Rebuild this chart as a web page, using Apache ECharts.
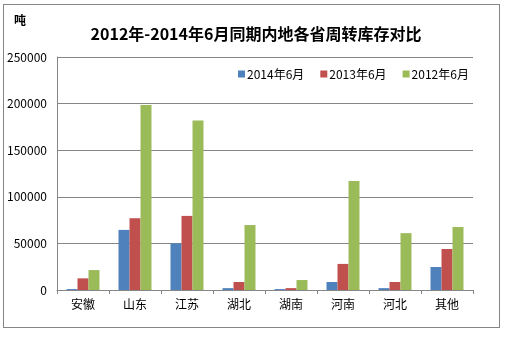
<!DOCTYPE html>
<html><head><meta charset="utf-8">
<script src="https://cdn.jsdelivr.net/npm/echarts@6/dist/echarts.min.js"></script>
<style>html,body{margin:0;padding:0;background:#fff}#c{width:507px;height:338px}
#frame{position:absolute;left:3px;top:4px;width:497px;height:324px;border:1px solid #868686;box-sizing:border-box;pointer-events:none}</style>
</head><body><div id="c"></div><div id="frame"></div>
<script>
const categories = ['安徽','山东','江苏','湖北','湖南','河南','河北','其他'];
const seriesNames = ['2014年6月','2013年6月','2012年6月'];
const s2014 = [1000, 64500, 50000, 2000, 1000, 8600, 2000, 24700];
const s2013 = [12500, 77000, 79500, 8600, 2000, 28000, 8600, 44000];
const s2012 = [21400, 198500, 182000, 69700, 10700, 117000, 61000, 67600];
const yTicks = [0, 50000, 100000, 150000, 200000, 250000];
const colors = ['#4F81BD','#C0504D','#9BBB59'];
const font = '"Noto Sans CJK SC", sans-serif';
const chart = echarts.init(document.getElementById('c'));
const data = [s2014, s2013, s2012];
chart.setOption({
  animation:false,
  title:[{text:'2012年-2014年6月同期内地各省周转库存对比',left:251,top:21,textAlign:'center',
    textStyle:{fontFamily:font,fontSize:16,fontWeight:'bold',color:'#000'}},
    {text:'吨',left:9,top:9,textStyle:{fontFamily:font,fontSize:12,fontWeight:'bold',color:'#000'}}],
  legend:{data:seriesNames,left:233,top:63,itemWidth:7,itemHeight:7,itemGap:16,icon:'rect',
    textStyle:{fontFamily:font,fontSize:12,color:'#000',padding:[0,0,0,-3]}},
  grid:{left:57,right:34,top:57,bottom:48},
  xAxis:{type:'category',data:categories,
    axisLine:{lineStyle:{color:'#868686'}},
    axisTick:{show:true,length:4,lineStyle:{color:'#868686'}},
    axisLabel:{fontFamily:font,fontSize:12,color:'#000',margin:8}},
  yAxis:{type:'value',min:yTicks[0],max:yTicks[yTicks.length-1],interval:50000,
    axisLine:{show:true,lineStyle:{color:'#868686'}},axisTick:{show:false},
    splitLine:{lineStyle:{color:'#868686'}},
    axisLabel:{fontFamily:font,fontSize:12,color:'#000',margin:10,formatter:v=>String(v)}},
  series:seriesNames.map((n,i)=>({name:n,type:'bar',data:data[i],barWidth:11,barGap:'0%',
    itemStyle:{color:colors[i]}}))
});
</script></body></html>
